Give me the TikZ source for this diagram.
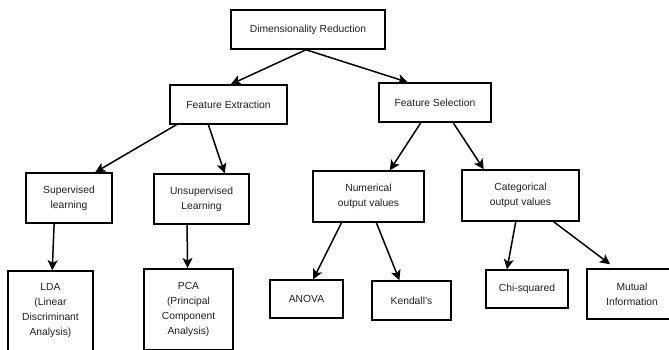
\documentclass[tikz,border=0pt]{standalone}
\usepackage{fontspec}
\setmainfont{Liberation Sans}
\usetikzlibrary{calc,arrows.meta}
\begin{document}
\begin{tikzpicture}[x=1pt,y=-1pt,
  box/.style={draw=black, line width=1.5pt, fill=white, inner sep=0pt, align=center,
    font=\fontsize{10.3}{15}\selectfont, text=black!88},
  arr/.style={line width=1.5pt, -{Stealth[length=10pt,width=10pt,inset=2.5pt]}}]
\useasboundingbox (0,0) rectangle (669,350);
\clip (0,0) rectangle (669,350);
\fill[white] (0,0) rectangle (669,350);
% level 0
\node[box, minimum width=154pt, minimum height=39pt] (dr) at (308,29.5) {Dimensionality Reduction};
% level 1
\node[box, minimum width=117pt, minimum height=39pt] (fe) at (228.5,104.5) {Feature Extraction};
\node[box, minimum width=112pt, minimum height=39pt] (fs) at (435,102.5) {Feature Selection};
% level 2
\node[box, minimum width=86pt, minimum height=50pt] (sup) at (69,198) {Supervised\\learning};
\node[box, minimum width=95pt, minimum height=50pt] (uns) at (201.5,199) {Unsupervised\\Learning};
\node[box, minimum width=111pt, minimum height=51pt] (num) at (368.5,196.5) {Numerical\\output values};
\node[box, minimum width=117pt, minimum height=51pt] (cat) at (520.5,195.5) {Categorical\\output values};
% level 3
\node[box, minimum width=85pt, minimum height=80pt] (lda) at (50.5,311) {LDA\\(Linear\\Discriminant\\Analysis)};
\node[box, minimum width=89pt, minimum height=80.5pt] (pca) at (188.5,309) {PCA\\(Principal\\Component\\Analysis)};
\node[box, minimum width=73pt, minimum height=38pt] (ano) at (306.5,299) {ANOVA};
\node[box, minimum width=79pt, minimum height=39pt] (ken) at (411.5,300.5) {Kendall's};
\node[box, minimum width=82pt, minimum height=38pt] (chi) at (527,289) {Chi-squared};
\node[box, minimum width=90pt, minimum height=50pt] (mi) at (632,294) {Mutual\\Information};
% connectors
\draw[arr] ($(dr.south west)!0.487!(dr.south east)$) -- ($(fe.north west)!0.52!(fe.north east)$);
\draw[arr] ($(dr.south west)!0.487!(dr.south east)$) -- ($(fs.north west)!0.26!(fs.north east)$);
\draw[arr] ($(fe.south west)!0.06!(fe.south east)$) -- ($(sup.north west)!0.8!(sup.north east)$);
\draw[arr] ($(fe.south west)!0.33!(fe.south east)$) -- ($(uns.north west)!0.74!(uns.north east)$);
\draw[arr] ($(fs.south west)!0.375!(fs.south east)$) -- ($(num.north west)!0.69!(num.north east)$);
\draw[arr] ($(fs.south west)!0.66!(fs.south east)$) -- ($(cat.north west)!0.19!(cat.north east)$);
\draw[arr] ($(sup.south west)!0.33!(sup.south east)$) -- ($(lda.north west)!0.52!(lda.north east)$);
\draw[arr] ($(uns.south west)!0.35!(uns.south east)$) -- ($(pca.north west)!0.49!(pca.north east)$);
\draw[arr] ($(num.south west)!0.26!(num.south east)$) -- ($(ano.north west)!0.59!(ano.north east)$);
\draw[arr] ($(num.south west)!0.57!(num.south east)$) -- ($(ken.north west)!0.35!(ken.north east)$);
\draw[arr] ($(cat.south west)!0.46!(cat.south east)$) -- ($(chi.north west)!0.26!(chi.north east)$);
\draw[arr] ($(cat.south west)!0.78!(cat.south east)$) -- ($(mi.north west)!0.26!(mi.north east)+(0,-4)$);
\end{tikzpicture}
\end{document}
